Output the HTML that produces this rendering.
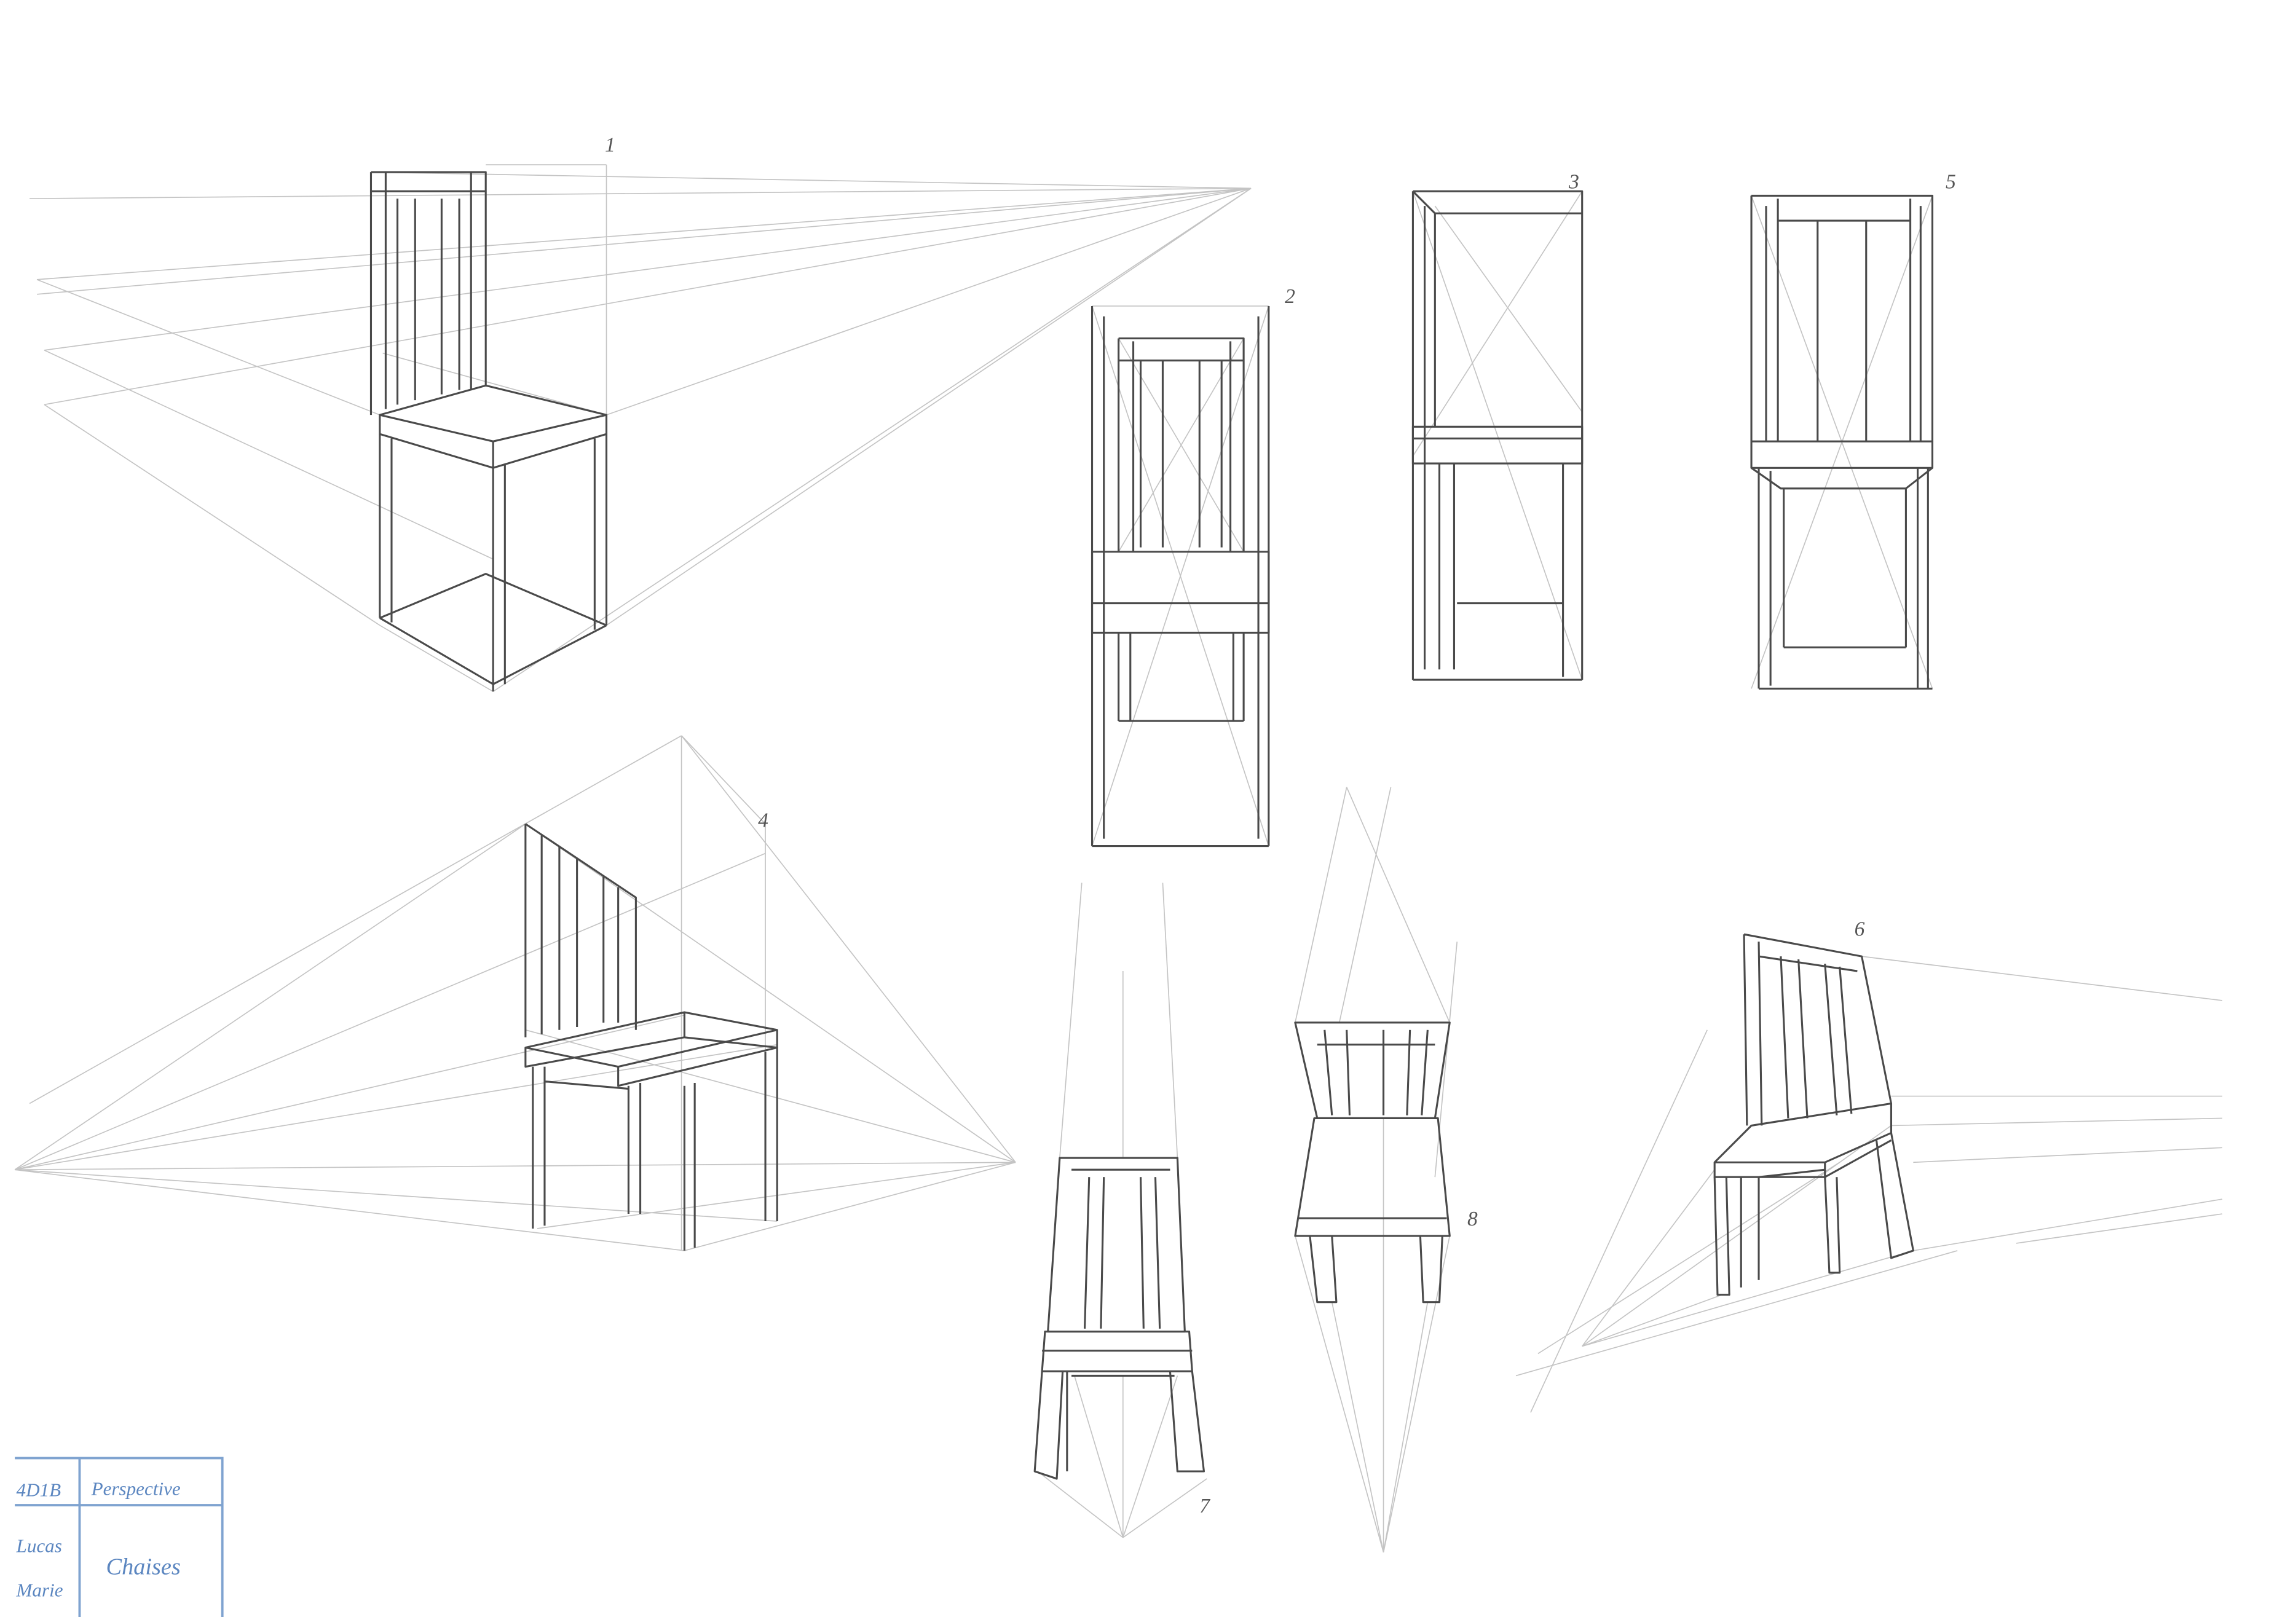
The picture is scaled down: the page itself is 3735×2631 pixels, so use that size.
<!DOCTYPE html>
<html><head><meta charset="utf-8"><style>
html,body{margin:0;padding:0;background:#fff;}
svg{display:block}
.c{stroke:#c4c4c4;stroke-width:0.7;fill:none}
.m{stroke:#4a4a4a;stroke-width:1.3;fill:none;stroke-linejoin:round}
.t{font-family:"Liberation Serif",serif;font-style:italic;fill:#555;font-size:14px}
.b{stroke:#7fa3d0;stroke-width:1.6;fill:none}
.bt{font-family:"Liberation Serif",serif;font-style:italic;fill:#5b86c0;font-size:13px}
</style></head><body>
<svg width="3735" height="2631" viewBox="0 0 1560 1099" xmlns="http://www.w3.org/2000/svg">
<rect width="1560" height="1099" fill="#fff"/>
<!-- Chair 1 construction -->
<g class="c">
<line x1="20" y1="135" x2="850" y2="128"/>
<line x1="25" y1="190" x2="850" y2="128"/>
<line x1="25" y1="200" x2="850" y2="128"/>
<line x1="30" y1="238" x2="850" y2="128"/>
<line x1="30" y1="275" x2="850" y2="128"/>
<line x1="335" y1="470" x2="850" y2="128"/>
<line x1="412" y1="425" x2="850" y2="128"/>
<line x1="412" y1="282" x2="850" y2="128"/>
<line x1="252" y1="117" x2="850" y2="128"/>
<line x1="25" y1="190" x2="258" y2="282"/>
<line x1="30" y1="238" x2="335" y2="380"/>
<line x1="30" y1="275" x2="258" y2="425"/>
<line x1="258" y1="425" x2="335" y2="470"/>
<line x1="412" y1="112" x2="412" y2="425"/>
<line x1="330" y1="112" x2="412" y2="112"/>
<line x1="260" y1="240" x2="412" y2="282"/>
</g>
<g class="m">
<path d="M252 117 L330 117 L330 262 M252 117 L252 282 M262 117 L262 278 M320 117 L320 265 M252 130 L330 130 M270 135 L270 275 M282 135 L282 272 M300 135 L300 268 M312 135 L312 265"/>
<path d="M258 282 L330 262 L412 282 L335 300 Z M258 282 L258 295 L335 318 L412 295 L412 282 M335 300 L335 318"/>
<path d="M258 295 L258 420 M266 298 L266 423 M335 318 L335 470 M343 316 L343 465 M412 295 L412 425 M404 298 L404 428"/>
<path d="M258 420 L335 465 L412 425 M258 420 L330 390 L412 425"/>
</g>
<text class="t" x="411" y="103">1</text>

<!-- Chair 2 -->
<g class="c"><line x1="742" y1="208" x2="862" y2="575"/><line x1="862" y1="208" x2="742" y2="575"/><line x1="760" y1="230" x2="845" y2="375"/><line x1="845" y1="230" x2="760" y2="375"/><line x1="742" y1="208" x2="862" y2="208"/><line x1="742" y1="575" x2="862" y2="575"/></g>
<g class="m">
<path d="M742 208 L742 575 M862 208 L862 575 M750 215 L750 570 M855 215 L855 570"/>
<path d="M760 230 L845 230 L845 375 M760 230 L760 375 M760 245 L845 245 M775 245 L775 372 M790 245 L790 372 M815 245 L815 372 M830 245 L830 372 M770 232 L770 375 M836 232 L836 375"/>
<path d="M742 375 L862 375 L862 430 L742 430 Z M742 410 L862 410"/>
<path d="M760 430 L760 490 M768 430 L768 490 M838 430 L838 490 M845 430 L845 490 M760 490 L845 490 M742 575 L862 575"/>
</g>
<text class="t" x="873" y="206">2</text>

<!-- Chair 3 -->
<g class="c"><line x1="960" y1="130" x2="1075" y2="462"/><line x1="1075" y1="130" x2="960" y2="310"/><line x1="975" y1="140" x2="1075" y2="280"/><line x1="960" y1="462" x2="1075" y2="462"/></g>
<g class="m">
<path d="M960 130 L1075 130 L1075 462 M960 130 L960 462 M968 140 L968 455 M975 145 L975 290 M960 130 L975 145 L1075 145"/>
<path d="M960 290 L1075 290 L1075 315 L960 315 Z M960 298 L1075 298"/>
<path d="M978 315 L978 455 M988 315 L988 455 M1062 315 L1062 460 M990 410 L1062 410 M960 462 L1075 462"/>
</g>
<text class="t" x="1066" y="128">3</text>

<!-- Chair 5 -->
<g class="c"><line x1="1190" y1="133" x2="1313" y2="468"/><line x1="1313" y1="133" x2="1190" y2="468"/><line x1="1195" y1="468" x2="1313" y2="468"/></g>
<g class="m">
<path d="M1190 133 L1313 133 L1313 300 M1190 133 L1190 300 M1200 140 L1200 300 M1305 140 L1305 300 M1208 135 L1208 300 M1298 135 L1298 300 M1208 150 L1298 150 M1235 150 L1235 300 M1268 150 L1268 300"/>
<path d="M1190 300 L1313 300 L1313 318 L1190 318 Z M1190 318 L1210 332 L1295 332 L1313 318"/>
<path d="M1195 318 L1195 468 M1203 320 L1203 466 M1212 332 L1212 440 M1303 318 L1303 468 M1295 332 L1295 440 M1310 318 L1310 468 M1212 440 L1295 440 M1195 468 L1313 468"/>
</g>
<text class="t" x="1322" y="128">5</text>

<!-- Chair 4 -->
<g class="c">
<line x1="10" y1="795" x2="690" y2="790"/>
<line x1="20" y1="750" x2="463" y2="500"/>
<line x1="463" y1="500" x2="690" y2="790"/>
<line x1="463" y1="500" x2="463" y2="850"/>
<line x1="10" y1="795" x2="357" y2="560"/>
<line x1="10" y1="795" x2="520" y2="580"/>
<line x1="10" y1="795" x2="465" y2="690"/>
<line x1="10" y1="795" x2="528" y2="710"/>
<line x1="10" y1="795" x2="465" y2="850"/>
<line x1="10" y1="795" x2="528" y2="830"/>
<line x1="357" y1="560" x2="690" y2="790"/>
<line x1="357" y1="700" x2="690" y2="790"/>
<line x1="365" y1="835" x2="690" y2="790"/>
<line x1="465" y1="850" x2="690" y2="790"/>
<line x1="520" y1="560" x2="520" y2="720"/>
<line x1="463" y1="500" x2="520" y2="560"/>
</g>
<g class="m">
<path d="M357 560 L432 610 L432 700 M357 560 L357 705 M368 567 L368 703 M380 575 L380 700 M392 583 L392 698 M410 595 L410 695 M420 603 L420 695"/>
<path d="M357 712 L465 688 L528 700 L420 725 Z M357 712 L357 725 L465 705 L528 712 M420 725 L420 738 L528 712 L528 700 M465 705 L465 688"/>
<path d="M362 725 L362 835 M370 725 L370 833 M427 738 L427 825 M435 736 L435 825 M465 738 L465 850 M472 736 L472 848 M520 715 L520 830 M528 712 L528 830 M370 735 L427 740"/>
</g>
<text class="t" x="515" y="562">4</text>

<!-- Chair 7 -->
<g class="c">
<line x1="735" y1="600" x2="720" y2="787"/><line x1="790" y1="600" x2="800" y2="787"/>
<line x1="763" y1="660" x2="763" y2="787"/>
<line x1="763" y1="1045" x2="705" y2="1000"/><line x1="763" y1="1045" x2="820" y2="1005"/>
<line x1="763" y1="1045" x2="730" y2="935"/><line x1="763" y1="1045" x2="800" y2="935"/>
<line x1="763" y1="1045" x2="763" y2="935"/>
</g>
<g class="m">
<path d="M720 787 L800 787 L805 905 L712 905 Z M728 795 L795 795 M740 800 L737 903 M750 800 L748 903 M775 800 L777 903 M785 800 L788 903"/>
<path d="M710 905 L808 905 L810 932 L708 932 Z M708 918 L810 918"/>
<path d="M708 932 L703 1000 L718 1005 L722 932 M725 932 L725 1000 M795 932 L800 1000 L818 1000 L810 932 M728 935 L798 935"/>
</g>
<text class="t" x="815" y="1028">7</text>

<!-- Chair 8 -->
<g class="c">
<line x1="915" y1="535" x2="880" y2="695"/><line x1="915" y1="535" x2="985" y2="695"/><line x1="945" y1="535" x2="910" y2="695"/>
<line x1="940" y1="1055" x2="880" y2="840"/><line x1="940" y1="1055" x2="985" y2="840"/><line x1="940" y1="1055" x2="905" y2="885"/><line x1="940" y1="1055" x2="970" y2="885"/>
<line x1="940" y1="1055" x2="940" y2="760"/><line x1="990" y1="640" x2="975" y2="800"/>
</g>
<g class="m">
<path d="M880 695 L985 695 L975 760 L895 760 Z M900 700 L905 758 M915 700 L917 758 M940 700 L940 758 M958 700 L956 758 M970 700 L966 758 M895 710 L975 710"/>
<path d="M893 760 L977 760 L985 840 L880 840 Z M882 828 L983 828"/>
<path d="M890 840 L895 885 L908 885 L905 840 M965 840 L967 885 L978 885 L980 840"/>
</g>
<text class="t" x="997" y="833">8</text>

<!-- Chair 6 -->
<g class="c">
<line x1="1265" y1="650" x2="1510" y2="680"/>
<line x1="1285" y1="745" x2="1510" y2="745"/>
<line x1="1285" y1="765" x2="1510" y2="760"/>
<line x1="1300" y1="790" x2="1510" y2="780"/>
<line x1="1300" y1="850" x2="1510" y2="815"/>
<line x1="1370" y1="845" x2="1510" y2="825"/>
<line x1="1075" y1="915" x2="1165" y2="795"/>
<line x1="1075" y1="915" x2="1285" y2="765"/>
<line x1="1075" y1="915" x2="1300" y2="850"/>
<line x1="1075" y1="915" x2="1170" y2="880"/>
<line x1="1040" y1="960" x2="1160" y2="700"/>
<line x1="1030" y1="935" x2="1330" y2="850"/>
<line x1="1045" y1="920" x2="1250" y2="790"/>
</g>
<g class="m">
<path d="M1185 635 L1265 650 L1285 750 M1185 635 L1187 765 M1195 640 L1197 765 M1210 650 L1215 760 M1222 652 L1228 760 M1240 655 L1248 758 M1250 657 L1258 757 M1195 650 L1262 660"/>
<path d="M1165 790 L1190 765 L1285 750 L1285 770 L1240 790 Z M1165 790 L1165 800 L1240 800 L1285 775 M1240 790 L1240 800"/>
<path d="M1165 800 L1167 880 L1175 880 L1173 800 M1183 800 L1183 875 M1195 800 L1195 870 M1240 800 L1243 865 L1250 865 L1248 800 M1275 775 L1285 855 L1300 850 L1285 770 M1195 800 L1240 795"/>
</g>
<text class="t" x="1260" y="636">6</text>

<!-- Title block -->
<g class="b">
<path d="M10 991 L151 991 L151 1099 M10 1023 L151 1023 M54 991 L54 1099"/>
</g>
<text class="bt" x="11" y="1017">4D1B</text>
<text class="bt" x="62" y="1016">Perspective</text>
<text class="bt" x="11" y="1055">Lucas</text>
<text class="bt" x="11" y="1085">Marie</text>
<text class="bt" x="72" y="1070" style="font-size:16px">Chaises</text>
</svg>
</body></html>
